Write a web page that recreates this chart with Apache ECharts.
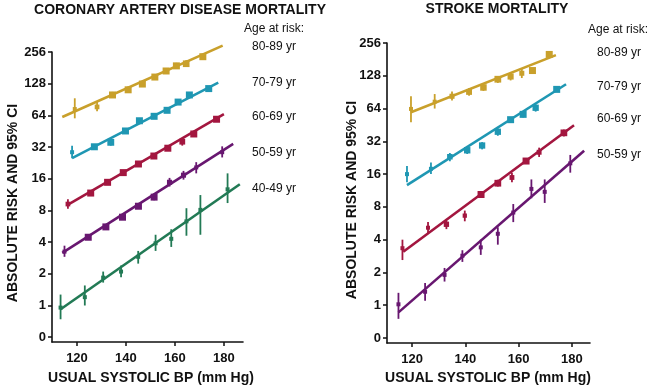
<!DOCTYPE html>
<html>
<head>
<meta charset="utf-8">
<script src="https://cdn.jsdelivr.net/npm/echarts@6/dist/echarts.min.js"></script>
<style>
html,body{margin:0;padding:0;background:#fff;}
#chart{width:650px;height:388px;}
</style>
</head>
<body>
<div id="chart"></div>
<script>
// ---------- DATA ----------
// point arrays: [usual systolic BP, absolute risk, lower 95% CI, upper 95% CI]
const titles = ['CORONARY ARTERY DISEASE MORTALITY', 'STROKE MORTALITY'];
const yTickValues = [0.5, 1, 2, 4, 8, 16, 32, 64, 128, 256];
const xTickValues = [120, 140, 160, 180];
const ageLabelsCad = ['80-89 yr', '70-79 yr', '60-69 yr', '50-59 yr', '40-49 yr'];
const ageLabelsStroke = ['80-89 yr', '70-79 yr', '60-69 yr', '50-59 yr'];

const cad80 = [[119.1,73.5,60,93],[128.2,77,70,86],[134.5,100,94,107],[140.9,112,105,120],[146.7,127,120,135],[151.8,148,140,156],[156.4,169,160,179],[160.6,189,177,202],[164.6,198,185,214],[171.4,231,220,243]];
const cad70 = [[118.0,28.6,25,33],[127.1,32.2,30.5,34],[133.8,35.5,33,38],[139.8,45.5,43,48],[145.5,56.9,54,60],[151.5,62.7,60,66],[156.8,71.5,68,75],[161.3,85.6,82,90],[165.9,100,95,105],[173.8,115,110,120]];
const cad60 = [[116.3,9.2,8.3,10.2],[125.6,11.7,11,12.4],[132.5,14.8,14.2,15.4],[138.9,18.3,17.6,19],[145.1,22.1,21.4,22.8],[151.4,26.3,25.4,27.2],[157.1,31.2,29.5,33],[163.0,36,33,39],[167.7,42.6,40,45],[177.0,58.8,56,61.5]];
const cad50 = [[114.9,3.25,2.9,3.7],[124.6,4.45,4.2,4.7],[131.8,5.58,5.3,5.9],[138.6,6.9,6.5,7.4],[145.1,8.77,8.3,9.3],[151.5,10.7,10,11.5],[157.8,14.8,13.5,16.3],[163.5,17.3,15.7,19],[168.7,20.5,18,23],[179.3,28.6,25.5,32.5]];
const cad40 = [[113.3,0.955,0.74,1.27],[123.2,1.2,1.0,1.55],[130.7,1.84,1.65,2.1],[138.0,2.1,1.85,2.4],[145.0,2.9,2.5,3.3],[152.1,3.9,3.3,4.7],[158.5,4.3,3.6,5.3],[164.7,6.3,4.6,8.4],[170.4,8.1,4.7,11.2],[181.5,12.7,9.4,18]];

const stk80 = [[119.6,63.5,48,83],[128.5,74,64,87],[135.0,83,76,92],[141.4,91,84,99],[146.8,100,93,108],[152.2,119,110,127],[157.0,126,116,136],[161.2,135,122,148],[165.2,143,136,150],[171.5,201,190,212]];
const stk70 = [[118.1,16,13.5,19],[127.1,17.9,16,20.5],[134.2,23.1,21,25],[140.7,26.5,24.5,28.5],[146.3,29.3,27,31.5],[152.2,39.2,36,42],[157.0,50.6,48,53],[161.7,56.6,53,60],[166.4,65.1,60,70],[174.3,96,92,100]];
const stk60 = [[116.4,3.34,2.6,4.0],[126.0,5.15,4.5,5.8],[132.9,5.54,5.0,6.0],[139.8,6.65,5.9,7.4],[145.9,10.4,9.8,11],[152.2,13.2,12.3,14.2],[157.5,14.9,13.5,16.5],[162.8,21.1,19.8,22.5],[167.7,25.4,23,28],[177.0,38.3,35.5,41]];
const stk50 = [[114.9,1.02,0.75,1.3],[124.9,1.33,1.1,1.6],[132.2,1.9,1.65,2.2],[138.9,2.85,2.5,3.2],[145.8,3.4,2.9,4.0],[152.2,4.53,3.6,5.2],[158.0,7.1,5.8,8.5],[164.8,11.7,9.6,14.3],[169.8,11.0,8.7,14.3],[179.4,20.1,16.5,24]];

// fitted regression lines: [start], [end]
const cadFit80 = [[114.0,61.8],[179.5,294]];
const cadFit70 = [[118.0,25.1],[177.7,131]];
const cadFit60 = [[116.0,9.0],[180.0,65.9]];
const cadFit50 = [[114.0,3.16],[183.8,34.3]];
const cadFit40 = [[113.3,0.92],[186.5,14.2]];
const stkFit80 = [[119.6,59.3],[174.0,198]];
const stkFit70 = [[118.1,12.7],[177.8,107]];
const stkFit60 = [[116.7,3.1],[180.8,45]];
const stkFit50 = [[114.9,0.86],[184.6,26.2]];

// ---------- STYLE ----------
const C = {gold:'#C9A02B', teal:'#1F97B3', red:'#A3163F', purple:'#681770', green:'#227A55'};
const FONT = '"Liberation Sans", Arial, Helvetica, sans-serif';

function pointSeries(idx, data, color) {
  return {
    type: 'custom', xAxisIndex: idx, yAxisIndex: idx, z: 4,
    data: data, encode: {x: 0, y: 1},
    renderItem: function (params, api) {
      const x = api.value(0), y = api.value(1), lo = api.value(2), hi = api.value(3);
      const p = api.coord([x, y]), pl = api.coord([x, lo]), ph = api.coord([x, hi]);
      const w = Math.log2(hi / lo);
      const s = Math.max(4, Math.min(7, 1.4 / w));
      return {type: 'group', children: [
        {type: 'line', shape: {x1: p[0], y1: ph[1], x2: p[0], y2: pl[1]}, style: {stroke: color, lineWidth: 1.8}},
        {type: 'rect', shape: {x: p[0] - s / 2, y: p[1] - s / 2, width: s, height: s}, style: {fill: color}}
      ]};
    }
  };
}
function fitSeries(idx, data, color) {
  return {type: 'line', xAxisIndex: idx, yAxisIndex: idx, data: data, showSymbol: false, symbol: 'none',
    clip: false, z: 3, lineStyle: {color: color, width: 2.6}};
}
function xAxisCfg(idx, min, max) {
  return {type: 'value', gridIndex: idx, min: min, max: max,
    axisLine: {show: true, onZero: false, lineStyle: {color: '#111', width: 1.6}},
    axisTick: {show: true, length: 4, customValues: xTickValues, lineStyle: {color: '#111', width: 1.5}},
    axisLabel: {customValues: xTickValues, margin: 10, color: '#111', fontSize: 13, fontWeight: 'bold', fontFamily: FONT},
    splitLine: {show: false}};
}
function yAxisCfg(idx) {
  return {type: 'log', logBase: 2, gridIndex: idx, min: 0.45, max: 256,
    axisLine: {show: true, lineStyle: {color: '#111', width: 1.6}},
    axisTick: {show: true, length: 4, customValues: yTickValues, lineStyle: {color: '#111', width: 1.5}},
    axisLabel: {customValues: yTickValues, margin: 6, color: '#111', fontSize: 13, fontWeight: 'bold', fontFamily: FONT,
      formatter: function (v) { return v < 1 ? '0' : String(Math.round(v)); }},
    splitLine: {show: false}};
}
function txt(x, y, s, opt) {
  return Object.assign({type: 'text', x: x, y: y, style: Object.assign({text: s, fill: '#111', font: '12px ' + FONT,
    textAlign: 'left', textVerticalAlign: 'middle'}, opt || {})});
}

const graphics = [
  txt(180, 10, titles[0], {font: 'bold 14px ' + FONT, textAlign: 'center'}),
  txt(497, 9, titles[1], {font: 'bold 14px ' + FONT, textAlign: 'center'}),
  txt(151, 378, 'USUAL SYSTOLIC BP (mm Hg)', {font: 'bold 14px ' + FONT, textAlign: 'center'}),
  txt(488, 378, 'USUAL SYSTOLIC BP (mm Hg)', {font: 'bold 14px ' + FONT, textAlign: 'center'}),
  Object.assign(txt(13, 203, 'ABSOLUTE RISK AND 95% CI', {font: 'bold 14px ' + FONT, textAlign: 'center'}), {rotation: Math.PI / 2}),
  Object.assign(txt(352, 200, 'ABSOLUTE RISK AND 95% CI', {font: 'bold 14px ' + FONT, textAlign: 'center'}), {rotation: Math.PI / 2}),
  txt(244, 29, 'Age at risk:'),
  txt(588, 30, 'Age at risk:')
];
const cadLabelY = [47, 83, 117, 153, 189];
ageLabelsCad.forEach(function (s, i) { graphics.push(txt(252, cadLabelY[i], s)); });
const stkLabelY = [53, 87, 119, 155];
ageLabelsStroke.forEach(function (s, i) { graphics.push(txt(597, stkLabelY[i], s)); });

const chart = echarts.init(document.getElementById('chart'), null, {renderer: 'canvas'});
chart.setOption({
  animation: false,
  backgroundColor: '#fff',
  grid: [
    {left: 52, top: 52, width: 191, height: 290, containLabel: false},
    {left: 387, top: 43, width: 203, height: 300, containLabel: false}
  ],
  xAxis: [xAxisCfg(0, 109.8, 187.8), xAxisCfg(1, 110.6, 186.8)],
  yAxis: [yAxisCfg(0), yAxisCfg(1)],
  graphic: graphics,
  series: [
    fitSeries(0, cadFit80, C.gold), pointSeries(0, cad80, C.gold),
    fitSeries(0, cadFit70, C.teal), pointSeries(0, cad70, C.teal),
    fitSeries(0, cadFit60, C.red), pointSeries(0, cad60, C.red),
    fitSeries(0, cadFit50, C.purple), pointSeries(0, cad50, C.purple),
    fitSeries(0, cadFit40, C.green), pointSeries(0, cad40, C.green),
    fitSeries(1, stkFit80, C.gold), pointSeries(1, stk80, C.gold),
    fitSeries(1, stkFit70, C.teal), pointSeries(1, stk70, C.teal),
    fitSeries(1, stkFit60, C.red), pointSeries(1, stk60, C.red),
    fitSeries(1, stkFit50, C.purple), pointSeries(1, stk50, C.purple)
  ]
});
</script>
</body>
</html>
